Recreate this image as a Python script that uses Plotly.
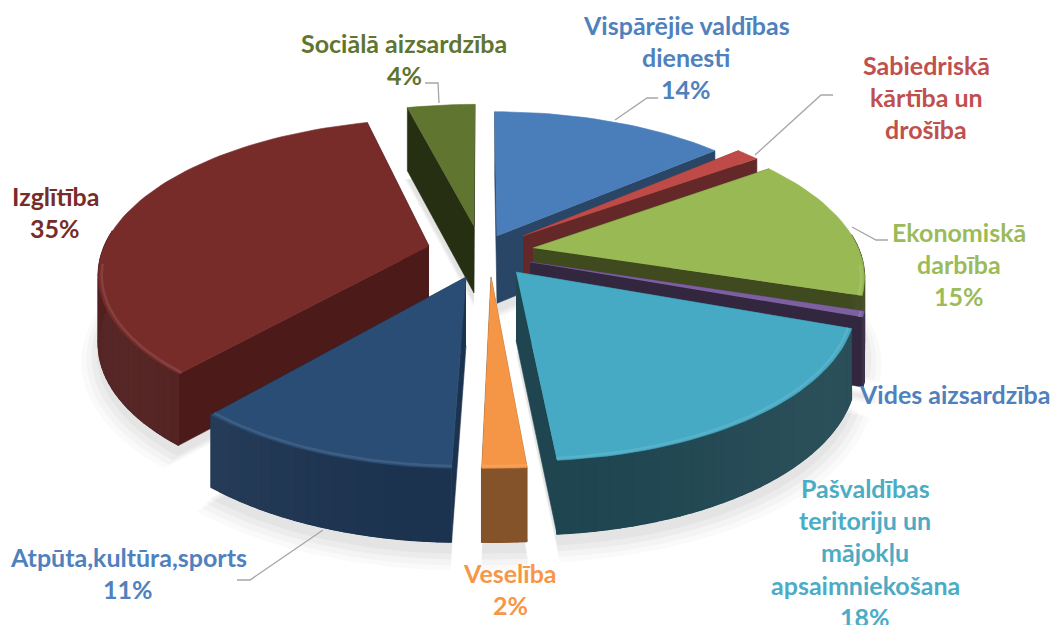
import numpy as np
import plotly.graph_objects as go

# ---------- data ----------
categories = ["Vispārējie valdības dienesti", "Sabiedriskā kārtība un drošība", "Ekonomiskā darbība",
              "Vides aizsardzība", "Pašvaldības teritoriju un mājokļu apsaimniekošana", "Veselība",
              "Atpūta,kultūra,sports", "Izglītība", "Sociālā aizsardzība"]
values = [13.8, 1.4, 15.0, 0.6, 18.3, 1.8, 11, 35, 4]
percent_labels = ["14%", "", "15%", "", "18%", "2%", "11%", "35%", "4%"]
top_colors = ["#4a7ebb", "#be4b48", "#98b954", "#7d60a0", "#46aac4", "#f59646", "#2a4d75", "#772c2a", "#5f7530"]
wall_colors = ["#2a4666", "#632827", "#3f4a1f", "#33273f", "#1e4550", "#84532a", "#1c3350", "#4c1a19", "#262f12"]
label_colors = ["#4f81bd", "#c0504d", "#9bbb59", "#4f81bd", "#4bacc6", "#f79646", "#4f81bd", "#772c2a", "#5f7530"]

# ---------- projection ----------
CX, CY, RX, RY, K = 481, 261, 330, 153, 0.169
DEPTH = 68
# where each exploded slice's tip lands on the canvas (Excel explodes points individually)
TIP_X = [497, 523, 533, 530, 516, 491, 466, 429, 474]
TIP_Y = [236, 236, 248, 262, 272, 277, 277, 246, 226]


def project(X, Y, drop=0.0):
    X, Y = np.asarray(X, float), np.asarray(Y, float)
    w = 1 + K * Y
    return CX + RX * X / w, CY - RY * Y / w + drop * DEPTH / w ** 0.4


def unproject(sx, sy):
    v = (CY - sy) / RY
    Y = v / (1 - K * v)
    return (sx - CX) / RX * (1 + K * Y), Y


def hexrgb(h):
    return tuple(int(h[i:i + 2], 16) for i in (1, 3, 5))


def mix(h, other, t):
    a, b = hexrgb(h), hexrgb(other)
    return "rgb(%d,%d,%d)" % tuple(a[i] + (b[i] - a[i]) * t for i in range(3))


fractions = np.array(values, float) / sum(values)
ends = np.cumsum(fractions) * 2 * np.pi
starts = ends - fractions * 2 * np.pi
mids = (starts + ends) / 2
order = sorted(range(len(values)), key=lambda i: -np.cos(mids[i]))

fig = go.Figure()


def poly(x, y, color, lw=0.6):
    fig.add_trace(go.Scatter(x=list(x), y=list(y), mode="lines", fill="toself", fillcolor=color,
                             line=dict(color=color, width=lw), hoverinfo="skip", showlegend=False))


def geom(i, scale=1.0):
    ax, ay = unproject(TIP_X[i], TIP_Y[i])
    n = max(6, int(fractions[i] * 200))
    t = np.linspace(starts[i], ends[i], n)
    return ax, ay, t, ax + scale * np.sin(t), ay + scale * np.cos(t)


# soft shadow under the slices
for i in order:
    for scale, off, alpha in [(1.05, 1.22, 0.018), (1.035, 1.2, 0.022), (1.02, 1.17, 0.03), (1.005, 1.14, 0.03)]:
        ax, ay, t, rx, ry = geom(i, scale)
        sx, sy = project(np.r_[ax, rx], np.r_[ay, ry], off)
        poly(sx, sy, "rgba(0,0,0,%g)" % alpha, 0)

for i in order:
    ax, ay, t, rx, ry = geom(i)
    # radial walls
    for ex, ey in [(rx[0], ry[0]), (rx[-1], ry[-1])]:
        x0, y0 = project([ax, ex], [ay, ey], 0)
        x1, y1 = project([ex, ax], [ey, ay], 1)
        poly(np.r_[x0, x1], np.r_[y0, y1], wall_colors[i])
    # outer wall: only the part that faces the viewer, with a soft gradient
    vis = np.cos(t) <= 0.12
    if vis.sum() > 1:
        x0, y0 = project(rx[vis], ry[vis], 0)
        x1, y1 = project(rx[vis][::-1], ry[vis][::-1], 1)
        poly(np.r_[x0, x1], np.r_[y0, y1], wall_colors[i], 1)
        idx = np.flatnonzero(vis)
        for a, b in zip(idx[:-1], idx[1:]):
            x0, y0 = project(rx[a:b + 1], ry[a:b + 1], 0)
            x1, y1 = project(rx[a:b + 1][::-1], ry[a:b + 1][::-1], 1)
            shade = 0.06 * (np.cos(3 * t[a]) + 1) / 2
            poly(np.r_[x0, x1], np.r_[y0, y1], mix(wall_colors[i], "#ffffff", shade), 1.5)
    # top face
    sx, sy = project(np.r_[ax, rx], np.r_[ay, ry], 0)
    poly(sx, sy, top_colors[i])
    # bevel highlight on the front rim
    front = np.cos(t) < -0.1
    if front.sum() > 1:
        hx, hy = project(ax + 0.99 * np.sin(t[front]), ay + 0.99 * np.cos(t[front]), 0)
        fig.add_trace(go.Scatter(x=hx, y=hy, mode="lines", hoverinfo="skip", showlegend=False,
                                 line=dict(color=mix(top_colors[i], "#ffffff", 0.1), width=2.5)))

# leader lines
leaders = [
    ([425, 438, 439], [83, 83, 103]),
    ([658, 647, 615], [98, 98, 120]),
    ([833, 821, 755], [95, 95, 155]),
    ([888, 876, 852], [240, 240, 227]),
    ([237, 250, 323], [580, 580, 530]),
]
for lx, ly in leaders:
    fig.add_trace(go.Scatter(x=lx, y=ly, mode="lines", hoverinfo="skip", showlegend=False,
                             line=dict(color="#a6a6a6", width=1.3)))

# labels, one line at a time because of the wide leading
label_lines = {
    0: (["Vispārējie valdības", "dienesti"], 686, 25),
    1: (["Sabiedriskā", "kārtība un", "drošība"], 926, 65),
    2: (["Ekonomiskā", "darbība"], 959, 232),
    3: (["Vides aizsardzība"], 954, 394),
    4: (["Pašvaldības", "teritoriju un", "mājokļu", "apsaimniekošana"], 865, 488),
    5: (["Veselība"], 510, 573),
    6: (["Atpūta,kultūra,sports"], 128, 557),
    7: (["Izglītība"], 55, 196),
    8: (["Sociālā aizsardzība"], 404, 43),
}
for i, (lines, lx, ly) in label_lines.items():
    texts = lines + ([percent_labels[i]] if percent_labels[i] else [])
    for n, txt in enumerate(texts):
        fig.add_annotation(x=lx, y=ly + n * 32.2, text="<b>%s</b>" % txt, showarrow=False,
                           xanchor="center", yanchor="middle",
                           font=dict(family="Lato", size=25, color=label_colors[i]))

fig.update_layout(width=1052, height=625, margin=dict(l=0, r=0, t=0, b=0),
                  paper_bgcolor="white", plot_bgcolor="white", showlegend=False,
                  xaxis=dict(range=[0, 1052], visible=False, fixedrange=True),
                  yaxis=dict(range=[625, 0], visible=False, fixedrange=True))
fig.write_html("out.html", config={"displayModeBar": False},
               post_script="document.body.style.margin='0';document.documentElement.style.overflow='hidden';")
